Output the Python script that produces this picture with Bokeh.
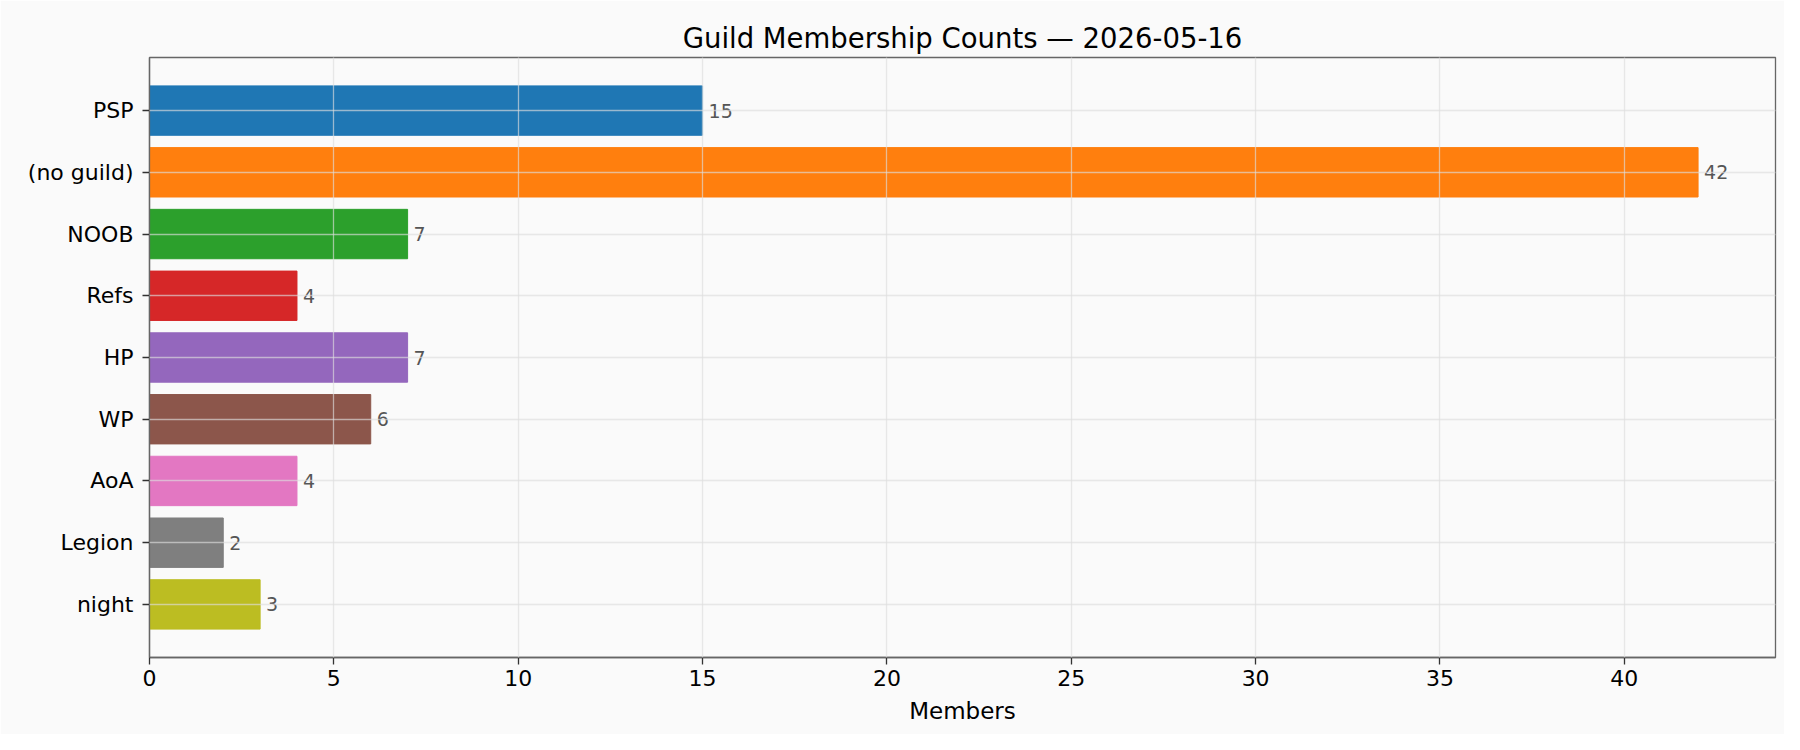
from bokeh.plotting import figure
from bokeh.models import ColumnDataSource, FactorRange, Range1d, SingleIntervalTicker
from bokeh.core.properties import value
from bokeh.embed import file_html
from bokeh.resources import INLINE

# guild names, top to bottom as drawn
guilds = ["PSP", "(no guild)", "NOOB", "Refs", "HP", "WP", "AoA", "Legion", "night"]
members = [15, 42, 7, 4, 7, 6, 4, 2, 3]

# matplotlib tab10 colours, one per bar
palette = ["#1f77b4", "#ff7f0e", "#2ca02c", "#d62728", "#9467bd",
           "#8c564b", "#e377c2", "#7f7f7f", "#bcbd22"]

src = ColumnDataSource(data=dict(
    guild=guilds,
    n=members,
    color=palette[:len(guilds)],
    lbl=[str(v) for v in members],
))

FONT = "DejaVu Sans"

p = figure(
    width=1784, height=734,
    y_range=FactorRange(factors=list(reversed(guilds)), range_padding=0.08),
    x_range=Range1d(0, max(members) * 1.05),
    title="Guild Membership Counts \u2014 2026-05-16",
    toolbar_location=None,
    output_backend="svg",
    min_border_left=149, min_border_right=9,
    min_border_top=57, min_border_bottom=77,
)

p.background_fill_color = "#fafafa"
p.border_fill_color = "#fafafa"
p.outline_line_color = "#666666"
p.outline_line_width = 1.3

# bars
p.hbar(y="guild", right="n", left=0, height=0.8, color="color", source=src)

# value labels at the bar ends
p.text(x="n", y="guild", text="lbl", source=src, x_offset=6,
       text_baseline="middle", text_align="left",
       text_font_size="19px", text_color="#555555", text_font=value(FONT))

# title
p.title.align = "center"
p.title.text_font = FONT
p.title.text_font_size = "27.5px"
p.title.text_font_style = "normal"
p.title.text_color = "#000000"
p.title.standoff = 8

# axes
p.xaxis.ticker = SingleIntervalTicker(interval=5, num_minor_ticks=0)
p.xaxis.axis_label = "Members"
p.xaxis.axis_label_text_font = FONT
p.xaxis.axis_label_text_font_size = "23px"
p.xaxis.axis_label_text_font_style = "normal"
p.xaxis.axis_label_text_color = "#000000"
p.xaxis.axis_label_standoff = 9

for ax in (p.xaxis, p.yaxis):
    ax.axis_line_color = "#666666"
    ax.axis_line_width = 1.3
    ax.major_tick_line_color = "#333333"
    ax.major_tick_line_width = 1.3
    ax.major_tick_out = 7
    ax.major_tick_in = 0
    ax.minor_tick_line_color = None
    ax.major_label_text_font = FONT
    ax.major_label_text_font_size = "22px"
    ax.major_label_text_color = "#000000"
p.xaxis.major_label_standoff = 5
p.yaxis.major_label_standoff = 9

# grid drawn on top of the bars, like the original
for g in (p.xgrid, p.ygrid):
    g.grid_line_color = "#dddddd"
    g.grid_line_alpha = 0.65
    g.grid_line_width = 1.3
    g.level = "overlay"

open("out.html", "w").write(file_html(p, INLINE))
